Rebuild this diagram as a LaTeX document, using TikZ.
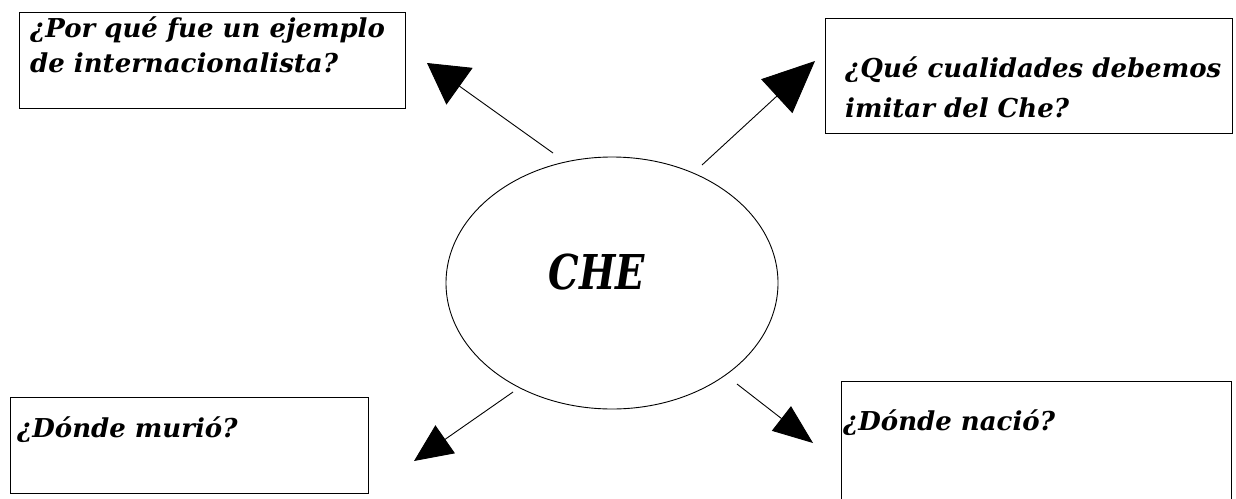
\documentclass[tikz,border=0pt]{standalone}
\usepackage{fontspec}
\setmainfont{DejaVu Serif}
\usepackage{graphicx}
\usetikzlibrary{shapes.geometric,arrows.meta}
\begin{document}
\begin{tikzpicture}[x=1pt,y=-1pt,
  box/.style={draw, line width=1.3pt, rectangle, inner sep=0pt, anchor=north west},
  qtext/.style={anchor=base west, align=left, inner sep=0pt, font=\fontsize{26}{37}\selectfont\bfseries\itshape},
  conn/.style={line width=0.9pt},
]
\useasboundingbox[fill=white] (0,0) rectangle (1236,498);
% central ellipse
\node[draw, ellipse, line width=0.9pt, minimum width=332pt, minimum height=252pt, inner sep=0pt] (che) at (612,283) {};
\node[font=\fontsize{48}{48}\selectfont\bfseries\itshape, inner sep=0pt] (chet) at (597,272) {\scalebox{0.8}[1]{CHE}};
% boxes
\node[box, minimum width=386pt, minimum height=96pt] (tl) at (19,12) {};
\node[qtext, font=\fontsize{26}{35}\selectfont\bfseries\itshape] (tlq) at (30,72) {¿Por qué fue un ejemplo\\de internacionalista?};
\node[box, minimum width=407pt, minimum height=115pt] (tr) at (825,18) {};
\node[qtext, font=\fontsize{26}{40}\selectfont\bfseries\itshape] (trq) at (845,117) {¿Qué cualidades debemos\\imitar del Che?};
\node[box, minimum width=358pt, minimum height=96pt] (bl) at (10,397) {};
\node[qtext] (blq) at (17,437) {¿Dónde murió?};
\begin{scope}
\clip (0,0) rectangle (1236,498);
\node[box, minimum width=390pt, minimum height=140pt] (br) at (841,381) {};
\end{scope}
\node[qtext] (brq) at (843,430) {¿Dónde nació?};
% connector ends
\coordinate (s1) at (553,153); \coordinate (e1) at (427,63);
\coordinate (s2) at (702,165); \coordinate (e2) at (815,61);
\coordinate (s3) at (737,384); \coordinate (e3) at (813,443);
\coordinate (s4) at (513,392); \coordinate (e4) at (414,461);
\draw[conn, -{Triangle[length=40pt,width=45pt]}] (s1) -- (e1);
\draw[conn, -{Triangle[length=52pt,width=46pt]}] (s2) -- (e2);
\draw[conn, -{Triangle[length=40pt,width=31pt]}] (s3) -- (e3);
\draw[conn, -{Triangle[length=38pt,width=34pt]}] (s4) -- (e4);
\end{tikzpicture}
\end{document}
